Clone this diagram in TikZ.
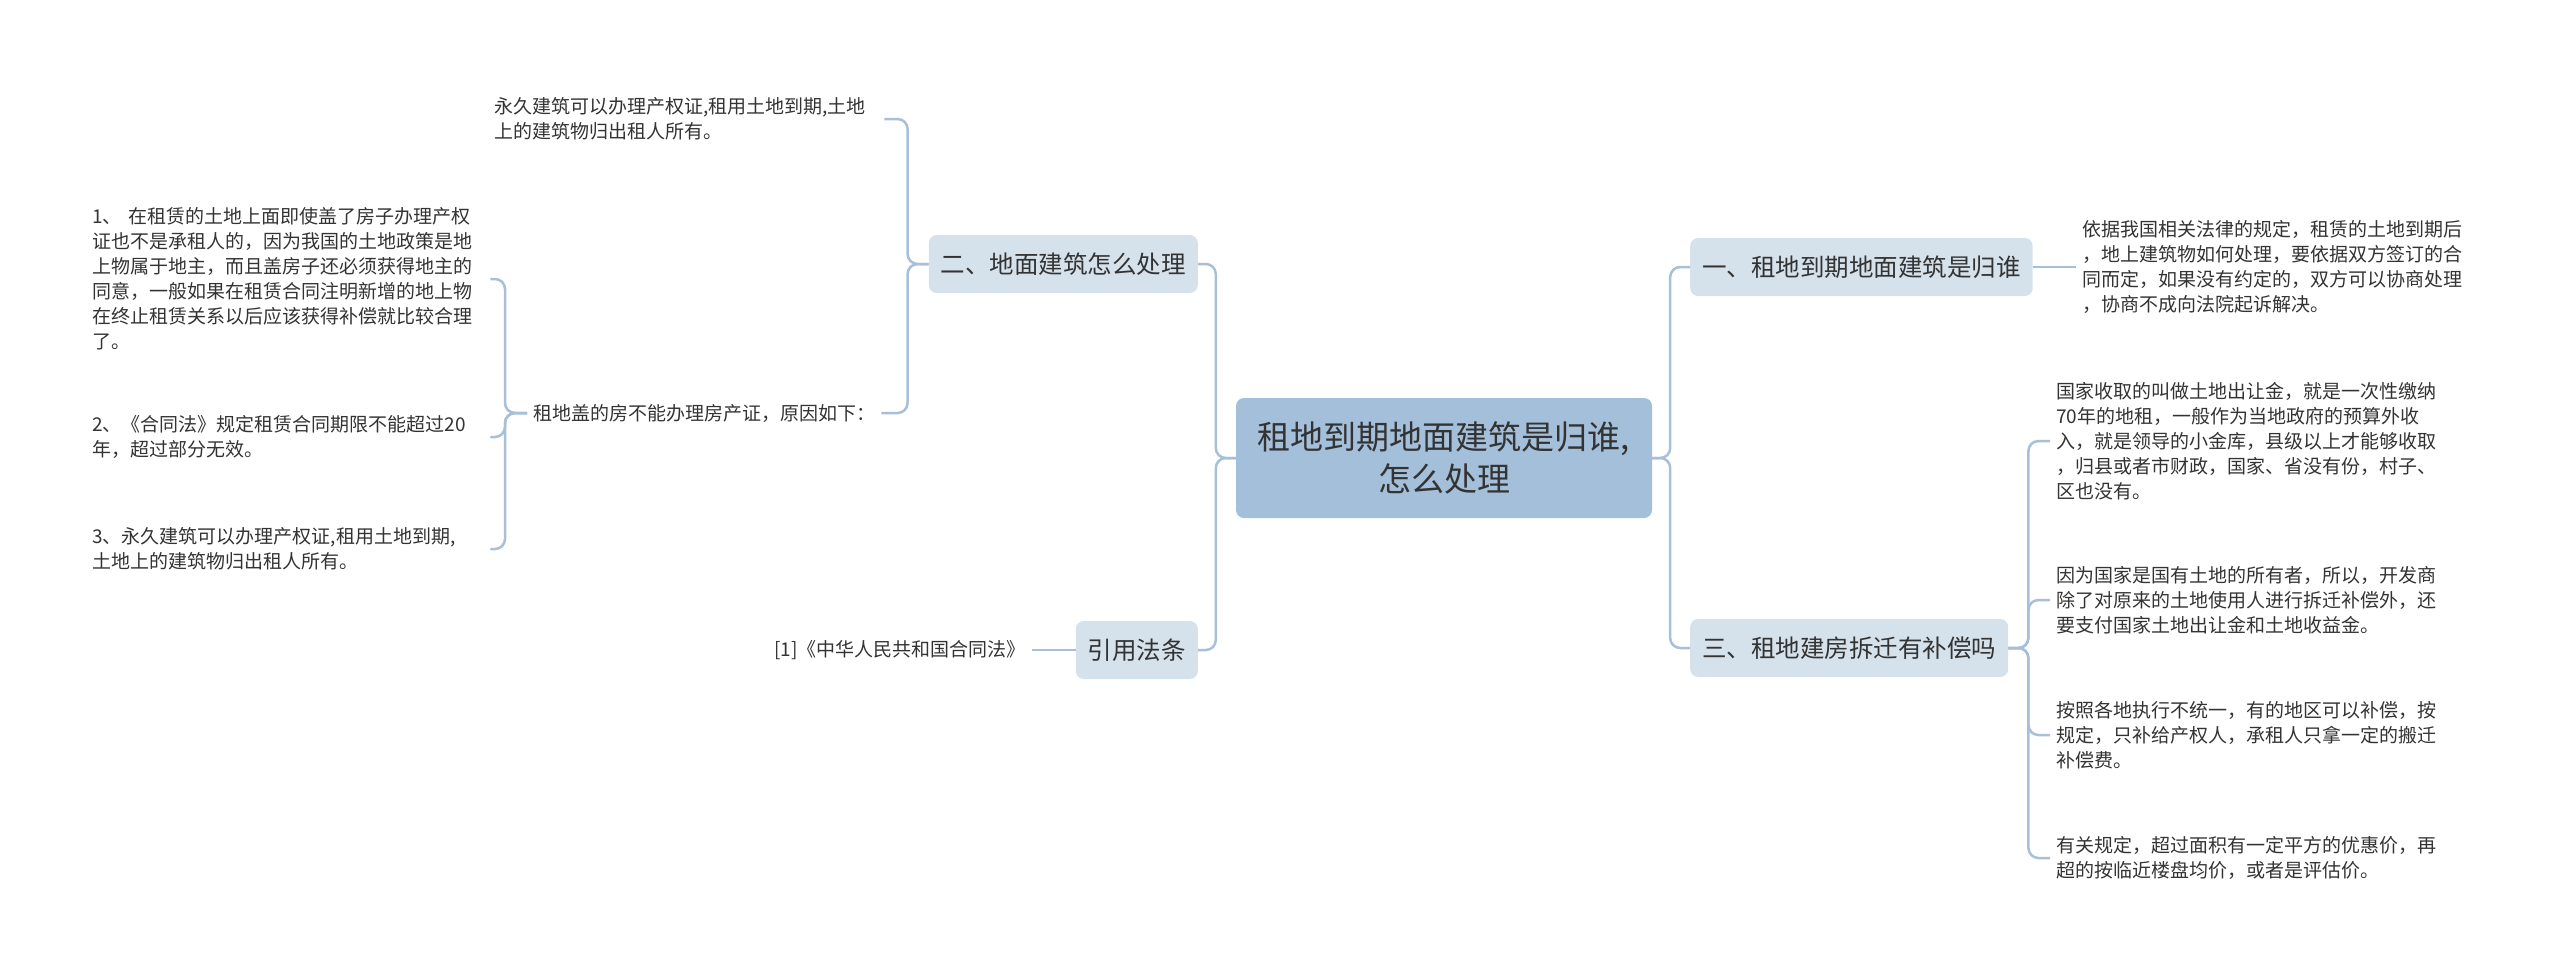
\documentclass[tikz,border=0pt]{standalone}
\usepackage{fontspec}
\setmainfont{Noto Sans CJK SC}
\usetikzlibrary{positioning}
\definecolor{linkblue}{HTML}{A7C0D8}
\definecolor{rootfill}{HTML}{A3BFDA}
\definecolor{branchfill}{HTML}{D5E1EB}
\definecolor{inkgray}{HTML}{333333}
\tikzset{
  link/.style={draw=linkblue, line width=2.5pt, rounded corners=10pt},
  rootbox/.style={fill=rootfill, rounded corners=8pt, minimum width=416pt, minimum height=120pt, align=center, text=inkgray, font=\fontsize{33}{42}\selectfont},
  branchbox/.style={fill=branchfill, rounded corners=8pt, minimum height=58pt, inner xsep=12pt, text=inkgray, font=\fontsize{24.5}{30}\selectfont},
  leaftext/.style={align=left, inner sep=6pt, text=inkgray, font=\fontsize{19}{25}\selectfont}
}
\begin{document}
\begin{tikzpicture}[x=1pt, y=-1pt]
  \useasboundingbox (0,0) rectangle (2560,975);
  \node[rootbox] (root) at (1444,458) {租地到期地面建筑是归谁,\\怎么处理};
  % right side
  \node[branchbox, anchor=west] (own) at (1690,267) {一、租地到期地面建筑是归谁};
  \node[branchbox, anchor=west] (comp) at (1690,648) {三、租地建房拆迁有补偿吗};
  % left side
  \node[branchbox, anchor=east] (handle) at (1198,264) {二、地面建筑怎么处理};
  \node[branchbox, anchor=east] (cite) at (1198,650) {引用法条};
  % leaves
  \node[leaftext, anchor=west] (ownnote) at (2076,267) {依据我国相关法律的规定，租赁的土地到期后\\，地上建筑物如何处理，要依据双方签订的合\\同而定，如果没有约定的，双方可以协商处理\\，协商不成向法院起诉解决。};
  \node[leaftext, anchor=west] (fee) at (2050,441) {国家收取的叫做土地出让金，就是一次性缴纳\\70年的地租，一般作为当地政府的预算外收\\入，就是领导的小金库，县级以上才能够收取\\，归县或者市财政，国家、省没有份，村子、\\区也没有。};
  \node[leaftext, anchor=west] (owner) at (2050,600) {因为国家是国有土地的所有者，所以，开发商\\除了对原来的土地使用人进行拆迁补偿外，还\\要支付国家土地出让金和土地收益金。};
  \node[leaftext, anchor=west] (local) at (2050,735) {按照各地执行不统一，有的地区可以补偿，按\\规定，只补给产权人，承租人只拿一定的搬迁\\补偿费。};
  \node[leaftext, anchor=west] (price) at (2050,858) {有关规定，超过面积有一定平方的优惠价，再\\超的按临近楼盘均价，或者是评估价。};
  \node[leaftext, anchor=west, text width=384pt] (perm) at (488,119) {永久建筑可以办理产权证,租用土地到期,土地\\上的建筑物归出租人所有。};
  \node[leaftext, anchor=west] (nocert) at (527,413) {租地盖的房不能办理房产证，原因如下：};
  \node[leaftext, anchor=west, text width=392pt] (reason1) at (86,279) {1、 在租赁的土地上面即使盖了房子办理产权\\证也不是承租人的，因为我国的土地政策是地\\上物属于地主，而且盖房子还必须获得地主的\\同意，一般如果在租赁合同注明新增的地上物\\在终止租赁关系以后应该获得补偿就比较合理\\了。};
  \node[leaftext, anchor=west, text width=392pt] (reason2) at (86,437) {2、《合同法》规定租赁合同期限不能超过20\\年，超过部分无效。};
  \node[leaftext, anchor=west, text width=392pt] (reason3) at (86,549) {3、永久建筑可以办理产权证,租用土地到期,\\土地上的建筑物归出租人所有。};
  \node[leaftext, anchor=east] (law) at (1032,650) {[1]《中华人民共和国合同法》};
  % connectors
  \draw[link] (root.east) -- ++(18,0) |- (own.west);
  \draw[link] (root.east) -- ++(18,0) |- (comp.west);
  \draw[link] (root.west) -- ++(-20,0) |- (handle.east);
  \draw[link] (root.west) -- ++(-20,0) |- (cite.east);
  \draw[link] (own.east) -- (ownnote.west);
  \foreach \leaf in {fee,owner,local,price}
    \draw[link] (comp.east) -- ++(20,0) |- (\leaf.west);
  \draw[link] (handle.west) -- ++(-21,0) |- (perm.east);
  \draw[link] (handle.west) -- ++(-21,0) |- (nocert.east);
  \foreach \leaf in {reason1,reason2,reason3}
    \draw[link] (nocert.west) -- ++(-22,0) |- (\leaf.east);
  \draw[link] (cite.west) -- (law.east);
\end{tikzpicture}
\end{document}
